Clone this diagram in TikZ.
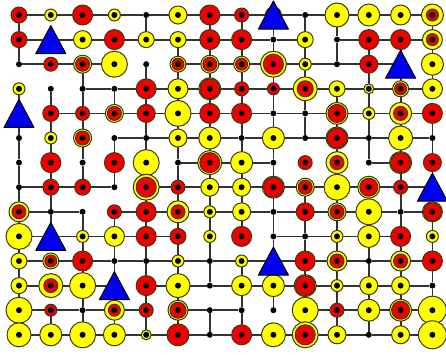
\documentclass[tikz,border=0pt]{standalone}
\usepackage{tikz}
\usetikzlibrary{backgrounds}
\definecolor{amarillo}{HTML}{FFFF00}
\definecolor{rojo}{HTML}{F00000}
\definecolor{azul}{HTML}{0000F0}
\definecolor{borde}{HTML}{3A3A10}
\tikzset{
  disco/.style={circle,draw=borde,line width=1pt,inner sep=0pt},
  punto/.style={circle,fill=black,inner sep=0pt,minimum size=6pt},
  arista/.style={line width=1.8pt,draw=black!80},
  tri/.style={draw=black,fill=azul,line width=1pt,line join=round},
}
\begin{document}
\begin{tikzpicture}[x=1pt,y=-1pt]
  \useasboundingbox (0,0) rectangle (446,354);
  % amarillo/rojo (radios en px), 0/0 = punto
  \foreach \r/\fila in {
    0/{0/8,6/0,0/10,6/0,0/0,9/0,0/10,0/7,0/8,0/0,12/0,11/0,10/0,11/6},
    1/{0/8,0/0,9/0,0/10,8/0,8/0,0/10,0/10,0/0,8/0,0/0,0/10,0/10,10/6},
    2/{0/0,0/7,9/7,13/0,0/0,8/6,9/7,8/6,13/10,6/0,0/0,0/9,0/0,11/0},
    3/{6/0,0/0,0/0,0/0,0/10,10/0,11/10,0/7,0/6,12/8,8/0,5/0,8/6,10/0},
    4/{0/0,0/8,0/7,9/7,0/9,13/0,0/10,0/10,0/0,0/0,11/9,6/0,11/7,0/10},
    5/{0/0,6/0,9/7,0/0,0/0,9/0,11/0,0/0,11/0,0/0,11/10,0/0,12/0,0/0},
    6/{0/0,0/10,0/0,0/10,13/0,0/0,12/10,11/0,0/0,0/7,11/7,0/0,11/10,0/9},
    7/{0/0,0/8,0/8,0/0,13/10,0/7,9/0,9/0,11/10,9/7,13/0,11/9,0/7,0/0},
    8/{10/7,0/0,0/0,0/7,0/10,11/7,6/0,9/0,0/0,0/9,9/7,13/0,0/0,10/9},
    9/{13/0,0/0,6/0,10/0,0/10,0/8,6/0,0/10,0/0,0/0,6/0,11/0,0/10,6/0},
    10/{8/0,8/6,0/10,0/0,0/0,6/0,0/0,6/0,0/0,0/10,10/7,0/0,10/7,0/10},
    11/{8/0,12/7,13/0,0/0,0/10,12/0,0/0,10/0,11/0,11/10,6/0,9/0,9/0,0/0},
    12/{13/0,0/6,0/0,10/6,0/7,10/8,0/0,0/0,0/0,13/0,0/7,11/0,11/9,14/0},
    13/{12/0,11/0,13/0,11/0,5/0,0/11,0/0,0/10,12/0,13/10,9/0,0/0,9/0,14/0}}{
    \foreach \ya/\ro [count=\c from 0] in \fila {
      \ifnum\ya>0 \node[disco,fill=amarillo,minimum size=2*\ya] (a-\r-\c) at ({19+31.8*\c},{15+24.6*\r}) {};\fi
      \ifnum\ro>0 \node[disco,fill=rojo,minimum size=2*\ro] (b-\r-\c) at ({19+31.8*\c},{15+24.6*\r}) {};\fi
      \node[punto] (v-\r-\c) at ({19+31.8*\c},{15+24.6*\r}) {};
    }
  }
  \begin{pgfonlayer}{background}
    % horizontales: fila / columnas de la izquierda
    \foreach \r/\cs in {0/{0,...,12},1/{0,1,2,3,4,5,6,7,8,10,11,12},2/{0,1,2,5,6,7,8,9,10,11},
      3/{2,3,4,5,6,7,8,9,10,11,12},4/{1,2,3,4,5,6,7,8,9,10,11,12},5/{3,4,5,6,7,8,9,10,11,12},
      6/{5,6,7,11},7/{0,1,2,4,5,6,7,8,9,10,11,12},8/{0,1,3,4,5,6,7,8,9,10,11,12},
      9/{0,1,2,3,4,8,9,10,11},10/{0,...,12},11/{0,1,2,4,5,6,7,8,9,10,11,12},
      12/{0,1,2,3,5,6,9,10,11,12},13/{0,...,12}}
      \foreach \c in \cs {
        \pgfmathtruncatemacro\d{\c+1}
        \draw[arista] (v-\r-\c) -- (v-\r-\d);
      }
    % verticales: fila de arriba / columnas
    \foreach \r/\cs in {0/{0,4,6,7,8,9,10,13},1/{0,5,6,7,8,9,10,11,12,13},2/{2,4,5,6,7,8,9,11,12,13},
      3/{0,1,2,3,4,5,6,7,8,9,10,11,12},4/{0,1,2,4,5,6,7,8,9,10,11,12,13},
      5/{0,1,2,3,4,5,6,7,8,10,11,12,13},6/{0,1,2,3,4,5,6,7,8,10,12,13},
      7/{0,1,4,5,6,7,8,9,10,11,12,13},8/{0,...,13},9/{0,2,3,4,5,6,8,9,10,11,12,13},
      10/{0,2,3,4,5,6,7,8,9,10,11,12,13},11/{0,2,3,4,5,7,8,9,10,11,12,13},
      12/{0,1,2,3,4,5,6,7,9,10,11,12,13}}
      \foreach \c in \cs {
        \pgfmathtruncatemacro\d{\r+1}
        \draw[arista] (v-\r-\c) -- (v-\d-\c);
      }
  \end{pgfonlayer}
  \foreach \r/\c in {0/8,1/1,2/12,4/0,7/13,9/1,10/8,11/3}
    \draw[tri,shift={(v-\r-\c)}] (-15,14) -- (0,-14) -- (15,14) -- cycle;
\end{tikzpicture}
\end{document}
